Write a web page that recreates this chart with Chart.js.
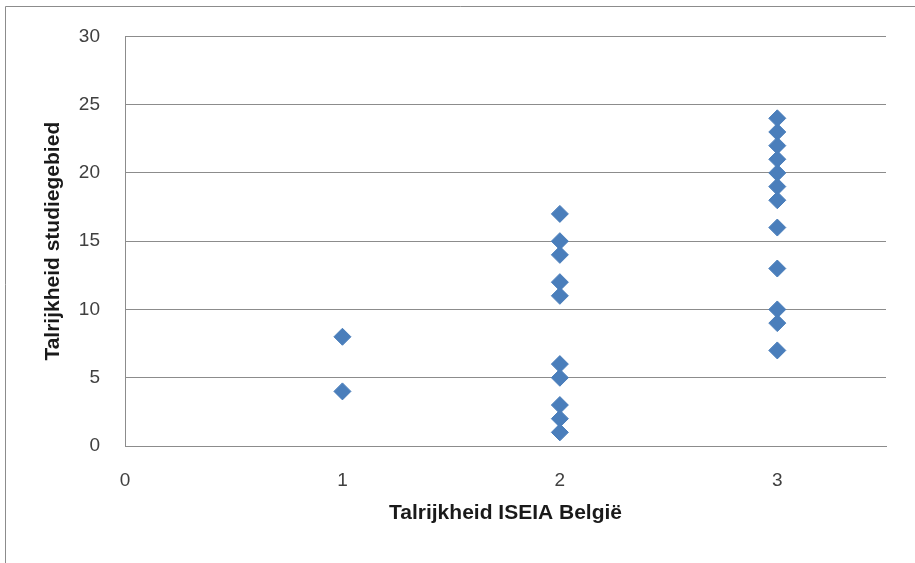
<!DOCTYPE html>
<html>
<head>
<meta charset="utf-8">
<script src="https://cdn.jsdelivr.net/npm/chart.js@4/dist/chart.umd.min.js"></script>
<style>
  html, body { margin: 0; padding: 0; background: #fff; }
  #wrap { position: relative; width: 915px; height: 563px; }
  canvas { display: block; }
</style>
</head>
<body>
<div id="wrap"><canvas id="c" width="915" height="563"></canvas></div>
<script>
// Abundance per species: ISEIA Belgium class (x) vs study-area abundance (y)
const iseiaClass = [1, 1,
  2, 2, 2, 2, 2, 2, 2, 2, 2, 2,
  3, 3, 3, 3, 3, 3, 3, 3, 3, 3, 3, 3];
const studyAbundance = [8, 4,
  17, 15, 14, 12, 11, 6, 5, 3, 2, 1,
  24, 23, 22, 21, 20, 19, 18, 16, 13, 10, 9, 7];
const xTicks = [0, 1, 2, 3];
const yTicks = [0, 5, 10, 15, 20, 25, 30];

const points = iseiaClass.map((x, i) => ({ x: x, y: studyAbundance[i] }));

const FONT = "'Liberation Sans', 'DejaVu Sans', sans-serif";
const PAD_LEFT = 41;

// Thin frame along the left and top edge of the chart area
const framePlugin = {
  id: 'frame',
  beforeDraw(chart) {
    const ctx = chart.ctx;
    ctx.save();
    ctx.fillStyle = '#ffffff';
    ctx.fillRect(0, 0, chart.width, chart.height);
    ctx.strokeStyle = '#8c8c8c';
    ctx.lineWidth = 1;
    ctx.beginPath();
    ctx.moveTo(5.5, chart.height);
    ctx.lineTo(5.5, 6.5);
    ctx.lineTo(chart.width, 6.5);
    ctx.stroke();
    ctx.restore();
  }
};

new Chart(document.getElementById('c'), {
  type: 'scatter',
  data: {
    datasets: [{
      data: points,
      pointStyle: 'rectRot',
      pointRadius: 8.5,
      pointHoverRadius: 8.5,
      backgroundColor: '#4a7ebb',
      borderColor: '#4a7ebb',
      borderWidth: 1
    }]
  },
  options: {
    responsive: false,
    animation: false,
    layout: { padding: { left: PAD_LEFT, top: 35, right: 29, bottom: 0 } },
    plugins: { legend: { display: false }, tooltip: { enabled: false } },
    scales: {
      x: {
        type: 'linear',
        min: 0,
        max: 3.5,
        afterBuildTicks(scale) { scale.ticks = xTicks.map(v => ({ value: v })); },
        afterFit(scale) { scale.height = 563 - 446; },
        grid: { display: false, drawTicks: false },
        border: { display: true, color: '#8c8c8c', width: 1 },
        ticks: { color: '#404040', font: { family: FONT, size: 19 }, padding: 23, maxRotation: 0 },
        title: {
          display: true,
          text: 'Talrijkheid ISEIA België',
          color: '#1a1a1a',
          font: { family: FONT, size: 21, weight: 'bold' },
          padding: { top: 4, bottom: 37 }
        }
      },
      y: {
        type: 'linear',
        min: 0,
        max: 30,
        afterBuildTicks(scale) { scale.ticks = yTicks.map(v => ({ value: v })); },
        afterFit(scale) { scale.width = 125 - PAD_LEFT; },
        grid: { color: '#8c8c8c', lineWidth: 1, drawTicks: false },
        border: { display: true, color: '#8c8c8c', width: 1 },
        ticks: { color: '#404040', font: { family: FONT, size: 19 }, padding: 25 },
        title: {
          display: true,
          text: 'Talrijkheid studiegebied',
          color: '#1a1a1a',
          font: { family: FONT, size: 21, weight: 'bold' },
          padding: { top: 0, bottom: 0 }
        }
      }
    }
  },
  plugins: [framePlugin]
});
</script>
</body>
</html>
